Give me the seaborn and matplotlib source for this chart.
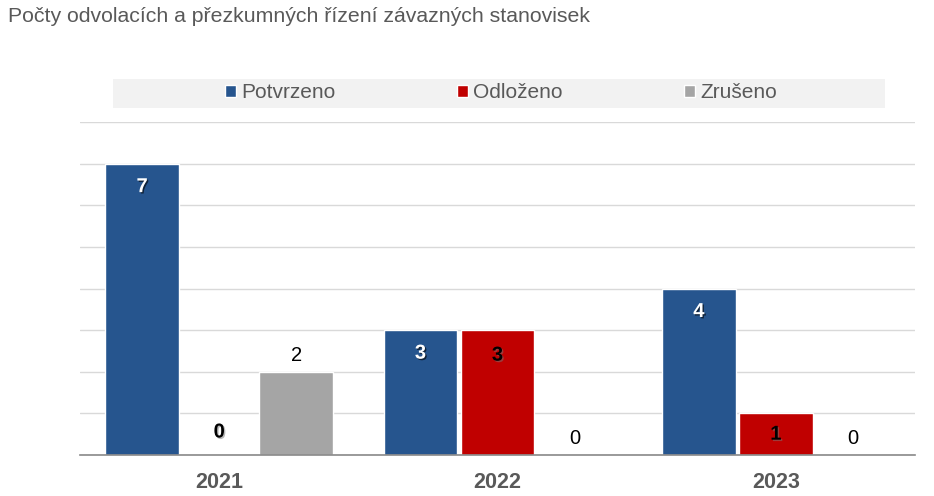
import pandas as pd
import numpy as np
import seaborn as sns
import matplotlib.pyplot as plt
import matplotlib.patheffects as pe
from matplotlib.patches import Rectangle

# Data
years = ['2021', '2022', '2023']
series = ['Potvrzeno', 'Odloženo', 'Zrušeno']
potvrzeno = [7, 3, 4]
odlozeno = [0, 3, 1]
zruseno = [2, 0, 0]
colors = ['#26558E', '#C00000', '#A5A5A5']

df = pd.DataFrame({
    'Rok': years * 3,
    'Výsledek': [s for s in series for _ in years],
    'Počet': potvrzeno + odlozeno + zruseno,
})

sns.set_style('white')
plt.rcParams['font.family'] = ['Liberation Sans', 'DejaVu Sans']

fig = plt.figure(figsize=(9.34, 4.96), dpi=100)
ax = fig.add_axes([80 / 934, 41 / 496, 835 / 934, 333 / 496])

sns.barplot(data=df, x='Rok', y='Počet', hue='Výsledek', palette=colors,
            width=0.83, gap=0.04, saturation=1, ax=ax, legend=True)

ax.set_ylim(0, 8)
ax.set_yticks(np.arange(0, 9, 1))
ax.set_yticklabels([])
ax.tick_params(axis='y', length=0)
ax.tick_params(axis='x', length=0, pad=12)
ax.grid(axis='y', color='#D9D9D9', linewidth=1)
ax.set_axisbelow(True)
for s in ['top', 'right', 'left']:
    ax.spines[s].set_visible(False)
ax.spines['bottom'].set_color('#898989')
ax.spines['bottom'].set_linewidth(1.2)
ax.set_xlabel('')
ax.set_ylabel('')
for lab in ax.get_xticklabels():
    lab.set_fontweight('bold')
    lab.set_fontsize(15.5)
    lab.set_color('#595959')

# Data labels
px = 72 / 100  # points per pixel
white_fx = [pe.withSimplePatchShadow(offset=(1, -1), shadow_rgbFace='black', alpha=0.6)]
dark_fx = [pe.withSimplePatchShadow(offset=(1, -1), shadow_rgbFace='#777777', alpha=0.5)]
for i, cont in enumerate(ax.containers):
    for bar in cont:
        h = bar.get_height()
        xc = bar.get_x() + bar.get_width() / 2
        if i == 0:
            off, kw = -23, dict(color='white', fontweight='bold', path_effects=white_fx)
        elif i == 1:
            if h > 0:
                bar_px = h * 333 / 8
                off = -min(25, bar_px / 2)
            else:
                off = 23
            kw = dict(color='black', fontweight='bold', path_effects=dark_fx)
        else:
            off, kw = 16, dict(color='black')
        ax.annotate(f'{int(h)}', xy=(xc, h), xytext=(0, off * px),
                    textcoords='offset points', ha='center', va='center',
                    fontsize=14.5, **kw)

# Legend with grey band
handles, labels = ax.get_legend_handles_labels()
ax.get_legend().remove()
fig.patches.append(Rectangle((113 / 934, 1 - 108 / 496), 772 / 934, 29 / 496,
                             transform=fig.transFigure, facecolor='#F2F2F2',
                             edgecolor='none', zorder=0))
fig.legend(handles, labels, loc='center', bbox_to_anchor=(501 / 934, 1 - 93 / 496),
           ncol=3, frameon=False, fontsize=15, handlelength=0.55, handleheight=0.55,
           handletextpad=0.25, columnspacing=5.8, labelcolor='#595959')

fig.text(8 / 934, 1 - 17 / 496, 'Počty odvolacích a přezkumných řízení závazných stanovisek',
         fontsize=15.3, color='#595959', ha='left', va='center')

fig.savefig('out.png', dpi=100)
